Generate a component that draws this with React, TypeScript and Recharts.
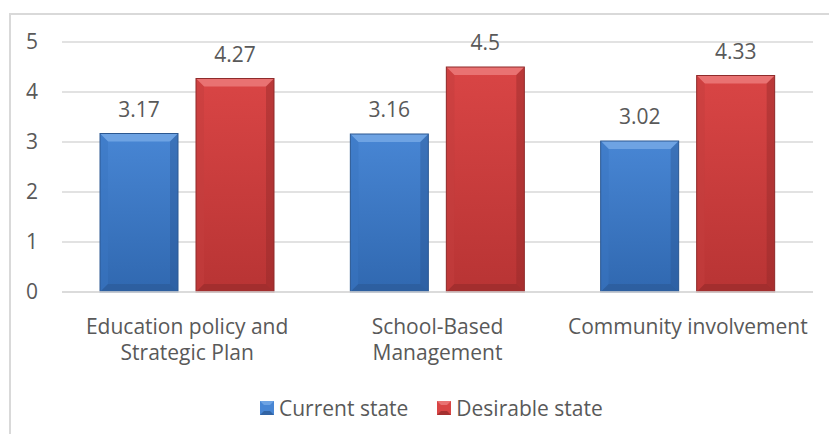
import React from 'react';
import { BarChart, Bar, XAxis, YAxis, CartesianGrid, LabelList, Legend } from 'recharts';

const categories = ['Education policy and Strategic Plan', 'School-Based Management', 'Community involvement'];
const categoryLines = [['Education policy and', 'Strategic Plan'], ['School-Based', 'Management'], ['Community involvement']];
const currentState = [3.17, 3.16, 3.02];
const desirableState = [4.27, 4.5, 4.33];
const yTicks = [0, 1, 2, 3, 4, 5];

const FONT = '"Open Sans", Lato, sans-serif';
const TEXT = '#595959';
const FS = 21;

const data = categories.map((name, i) => ({
  name,
  current: currentState[i],
  desirable: desirableState[i],
}));

const palettes: any = {
  blue: { top: '#4886d4', bottom: '#3068b0', light: '#6ea3e3', side: '#3a76c2', dark: '#2a5690', edge: '#2c5891' },
  red: { top: '#d94545', bottom: '#b83434', light: '#e97272', side: '#c43d3d', dark: '#8e2828', edge: '#8f2b2b' },
};

// bar with a bevelled look like the office chart
const BevelBar = (props: any) => {
  const { x, y, width, height, tone } = props;
  if (!height || height <= 0) return null;
  const p = palettes[tone];
  const b = Math.min(8, width / 4, height / 4);
  const id = `g-${tone}`;
  return (
    <g>
      <defs>
        <linearGradient id={id} x1="0" y1="0" x2="0" y2="1">
          <stop offset="0%" stopColor={p.top} />
          <stop offset="100%" stopColor={p.bottom} />
        </linearGradient>
      </defs>
      <rect x={x} y={y} width={width} height={height} fill={`url(#${id})`} />
      <polygon points={`${x},${y} ${x + width},${y} ${x + width - b},${y + b} ${x + b},${y + b}`} fill={p.light} />
      <polygon points={`${x},${y} ${x + b},${y + b} ${x + b},${y + height - b} ${x},${y + height}`} fill={p.side} opacity={0.5} />
      <polygon points={`${x + width},${y} ${x + width - b},${y + b} ${x + width - b},${y + height - b} ${x + width},${y + height}`} fill={p.dark} opacity={0.4} />
      <polygon points={`${x},${y + height} ${x + b},${y + height - b} ${x + width - b},${y + height - b} ${x + width},${y + height}`} fill={p.dark} opacity={0.5} />
      <rect x={x} y={y} width={width} height={height} fill="none" stroke={p.edge} strokeWidth={1} />
    </g>
  );
};

const CategoryTick = (props: any) => {
  const { x, y, index } = props;
  const lines = categoryLines[index] || [];
  return (
    <text x={x} y={y} textAnchor="middle" fill={TEXT} fontFamily={FONT} fontSize={FS}>
      {lines.map((line, i) => (
        <tspan key={i} x={x} dy={i === 0 ? 42 : 26}>{line}</tspan>
      ))}
    </text>
  );
};

const LegendIcon = ({ tone }: { tone: string }) => {
  const p = palettes[tone];
  return (
    <svg width={14} height={14} style={{ display: 'block' }}>
      <rect x={0} y={0} width={14} height={14} fill={p.top} />
      <polygon points="0,0 14,0 10,4 4,4" fill={p.light} />
      <polygon points="0,14 4,10 10,10 14,14" fill={p.dark} opacity={0.7} />
    </svg>
  );
};

const renderLegend = () => (
  <div style={{ display: 'flex', alignItems: 'center', paddingLeft: 260, height: 24, fontFamily: FONT, fontSize: FS, color: TEXT }}>
    <LegendIcon tone="blue" />
    <span style={{ marginLeft: 5, marginRight: 29 }}>Current state</span>
    <LegendIcon tone="red" />
    <span style={{ marginLeft: 5 }}>Desirable state</span>
  </div>
);

export default function App() {
  return (
    <div style={{ position: 'absolute', left: 0, top: 0, width: 829, height: 434, background: '#fff', overflow: 'hidden' }}>
      <div style={{ position: 'absolute', left: 9, top: 13, width: 900, height: 500, borderTop: '2px solid #d9d9d9', borderLeft: '2px solid #d9d9d9' }} />
      <BarChart
        width={829}
        height={434}
        data={data}
        margin={{ top: 42, right: 16, left: 0, bottom: 14 }}
        barSize={78}
        barGap={18}
        style={{ position: 'absolute', left: 0, top: 0 }}
      >
        <CartesianGrid vertical={false} stroke="#d9d9d9" strokeWidth={1.5} />
        <XAxis
          dataKey="name"
          height={104}
          tickLine={false}
          tickSize={0}
          tickMargin={0}
          axisLine={{ stroke: '#d9d9d9', strokeWidth: 1.5 }}
          tick={<CategoryTick />}
          interval={0}
        />
        <YAxis
          width={62}
          domain={[0, 5]}
          ticks={yTicks}
          axisLine={false}
          tickLine={false}
          tickSize={0}
          tickMargin={24}
          tick={{ fill: TEXT, fontSize: FS, fontFamily: FONT }}
        />
        <Legend verticalAlign="bottom" align="left" content={renderLegend} />
        <Bar dataKey="current" name="Current state" fill="#3f7fcc" shape={<BevelBar tone="blue" />} isAnimationActive={false}>
          <LabelList dataKey="current" position="top" offset={17} fill={TEXT} fontSize={FS} fontFamily={FONT} />
        </Bar>
        <Bar dataKey="desirable" name="Desirable state" fill="#d04444" shape={<BevelBar tone="red" />} isAnimationActive={false}>
          <LabelList dataKey="desirable" position="top" offset={17} fill={TEXT} fontSize={FS} fontFamily={FONT} />
        </Bar>
      </BarChart>
    </div>
  );
}
